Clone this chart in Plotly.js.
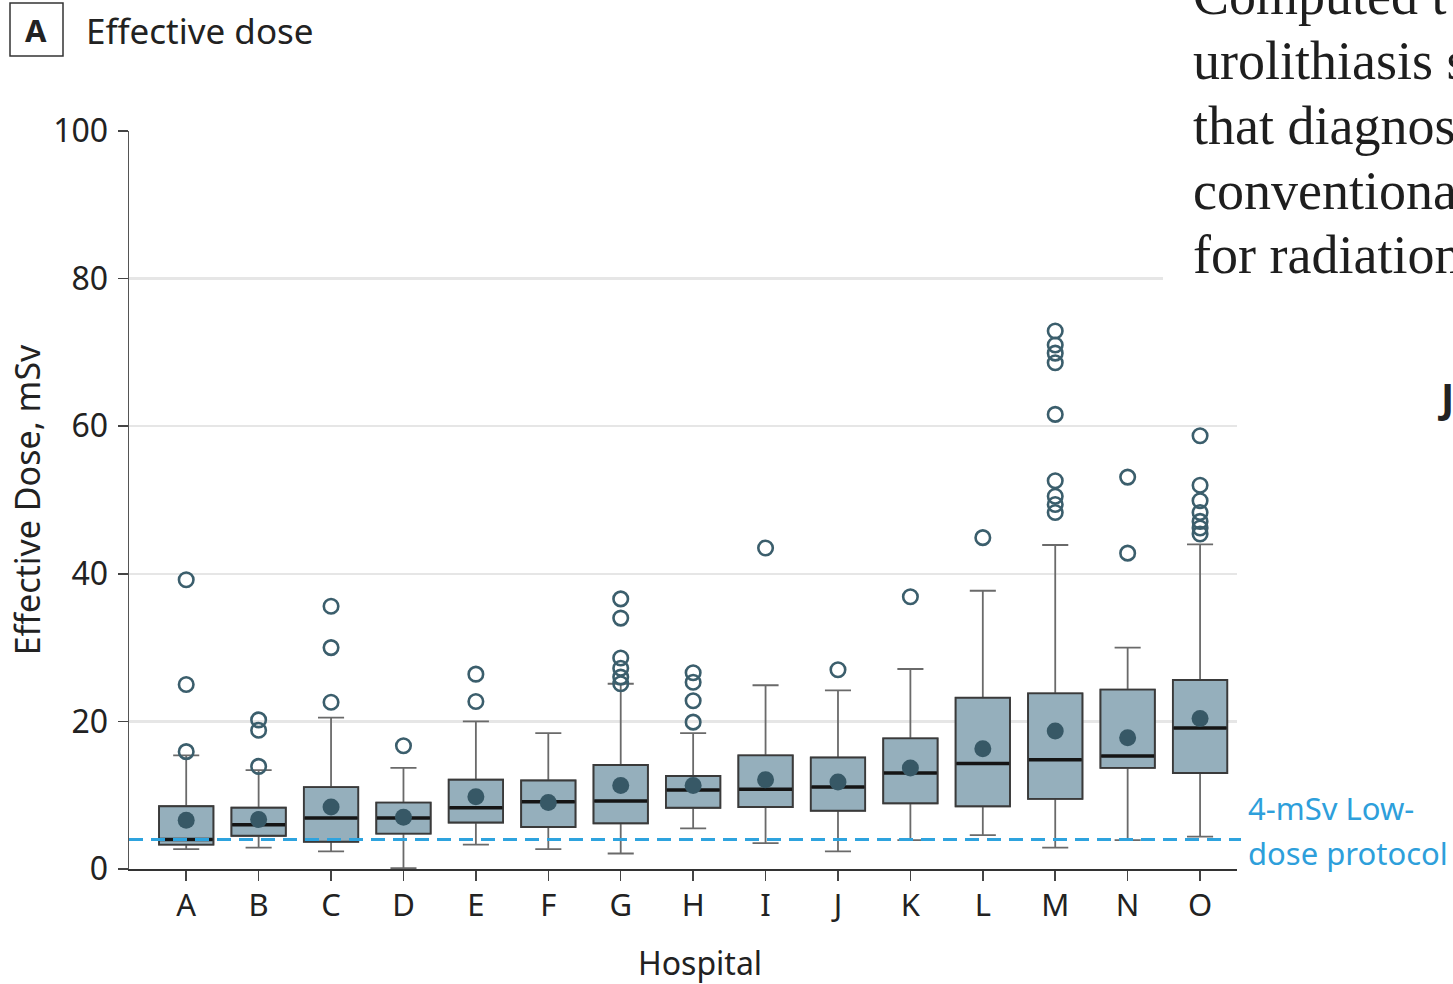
<!DOCTYPE html>
<html>
<head>
<meta charset="utf-8">
<script src="https://cdn.plot.ly/plotly-3.0.1.min.js"></script>
<style>
html,body{margin:0;padding:0;background:#fff;}
#chart{width:1453px;height:984px;}
</style>
</head>
<body>
<div id="chart"></div>
<script>
// ---- data ----
const hospitals = ["A","B","C","D","E","F","G","H","I","J","K","L","M","N","O"];
const q1        = [3.3, 4.5, 3.7, 4.8, 6.3, 5.7, 6.2, 8.3, 8.4, 7.9, 8.9, 8.5, 9.5, 13.7, 13.0];
const medians   = [4.0, 6.0, 6.9, 6.9, 8.3, 9.1, 9.2, 10.7, 10.8, 11.1, 13.0, 14.3, 14.8, 15.3, 19.1];
const q3        = [8.5, 8.3, 11.1, 9.0, 12.1, 12.0, 14.1, 12.6, 15.4, 15.1, 17.7, 23.2, 23.8, 24.3, 25.6];
const lowerWhisker = [2.7, 2.9, 2.4, 0.1, 3.3, 2.7, 2.1, 5.5, 3.5, 2.4, 3.9, 4.6, 2.9, 3.9, 4.4];
const upperWhisker = [15.4, 13.4, 20.5, 13.7, 20.0, 18.4, 25.1, 18.4, 24.9, 24.2, 27.1, 37.7, 43.9, 30.0, 44.0];
const means     = [6.6, 6.7, 8.4, 7.0, 9.8, 9.0, 11.3, 11.3, 12.1, 11.8, 13.7, 16.3, 18.7, 17.8, 20.4];
const outliers  = [
  [39.2, 25.0, 15.9],
  [20.2, 18.8, 13.9],
  [35.6, 30.0, 22.6],
  [16.7],
  [26.4, 22.7],
  [],
  [36.6, 34.0, 28.6, 27.2, 26.0, 25.1],
  [26.6, 25.3, 22.8, 19.9],
  [43.5],
  [27.0],
  [36.9],
  [44.9],
  [72.9, 71.0, 69.9, 68.6, 61.6, 52.6, 50.5, 49.4, 48.3],
  [53.1, 42.8],
  [58.7, 52.0, 49.9, 48.3, 47.1, 46.2, 45.4]
];
const lowDoseThreshold = 4;
const yTicks = [0, 20, 40, 60, 80, 100];
const bodyTextLines = ["Computed t", "urolithiasis s", "that diagnos", "conventiona", "for radiation"];

// ---- styling / layout ----
const FONT = "Noto Sans, Open Sans, sans-serif";
const BOX_W = 0.75;
const idx = hospitals.map((_, i) => i);

// layout geometry helpers (pixel -> paper) for decorations only
const M = {l: 129, r: 216, t: 131, b: 115};
const W = 1453, H = 984;
const PW = W - M.l - M.r, PH = H - M.t - M.b;
const px = x => (x - M.l) / PW;
const py = y => (H - M.b - y) / PH;

// whiskers (gray) with caps
const whiskerTrace = {
  type: "box",
  x: idx,
  q1: q1, median: medians, q3: q3,
  lowerfence: lowerWhisker, upperfence: upperWhisker,
  boxpoints: false,
  width: BOX_W,
  whiskerwidth: 0.48,
  fillcolor: "#95afbc",
  line: {color: "#6a6a6a", width: 1.8},
  hoverinfo: "skip",
  showlegend: false
};
// box bodies (dark outline) drawn over the whiskers
const boxTrace = {
  type: "box",
  x: idx,
  q1: q1, median: medians, q3: q3,
  lowerfence: q1, upperfence: q3,
  boxpoints: false,
  width: BOX_W,
  whiskerwidth: 0,
  fillcolor: "#95afbc",
  line: {color: "#3a3a3a", width: 1.9},
  hoverinfo: "skip",
  showlegend: false
};

const medX = [], medY = [];
idx.forEach(i => { medX.push(i - BOX_W/2 + 0.01, i + BOX_W/2 - 0.01, null); medY.push(medians[i], medians[i], null); });
const medianTrace = {
  type: "scatter", mode: "lines", x: medX, y: medY,
  line: {color: "#151515", width: 3.5}, hoverinfo: "skip", showlegend: false
};

const meanTrace = {
  type: "scatter", mode: "markers", x: idx, y: means,
  marker: {color: "#375866", size: 17, line: {width: 0}},
  hoverinfo: "skip", showlegend: false
};

const outX = [], outY = [];
outliers.forEach((arr, i) => arr.forEach(v => { outX.push(i); outY.push(v); }));
const outlierTrace = {
  type: "scatter", mode: "markers", x: outX, y: outY,
  marker: {symbol: "circle-open", color: "#3b5e6c", size: 14.5, line: {width: 2.6, color: "#3b5e6c"}},
  hoverinfo: "skip", showlegend: false
};

const serif = "Liberation Serif, DejaVu Serif, serif";
const bodyBaselines = [15, 80, 145, 210, 274];
const bodyAnnotations = bodyTextLines.map((t, k) => ({
  xref: "paper", yref: "paper", x: px(1191), y: py(bodyBaselines[k] + 13), xanchor: "left", yanchor: "bottom",
  text: t, showarrow: false, font: {family: serif, size: 54, color: "#1e1e1e"}
}));

const layout = {
  width: W, height: H,
  margin: M,
  paper_bgcolor: "#ffffff", plot_bgcolor: "#ffffff",
  font: {family: FONT, color: "#222222", size: 31},
  showlegend: false,
  xaxis: {
    range: [-0.79, 14.51],
    tickmode: "array", tickvals: idx, ticktext: hospitals,
    showgrid: false, zeroline: false,
    showline: true, linecolor: "#333333", linewidth: 2,
    ticks: "outside", ticklen: 10, tickwidth: 1.5, tickcolor: "#444444",
    tickfont: {family: FONT, size: 31, color: "#222222"},
    ticklabelstandoff: -2,
    fixedrange: true
  },
  yaxis: {
    range: [0, 100],
    tickmode: "array", tickvals: yTicks,
    showgrid: true, gridcolor: "#e6e6e6", gridwidth: 2.5,
    zeroline: false,
    showline: true, linecolor: "#555555", linewidth: 1.5,
    ticks: "outside", ticklen: 10, tickwidth: 1.5, tickcolor: "#444444",
    tickfont: {family: FONT, size: 32, color: "#222222"},
    ticklabelstandoff: 3,
    title: {text: "Effective Dose, mSv", font: {family: FONT, size: 34, color: "#222222"}, standoff: 2},
    fixedrange: true
  },
  shapes: [
    {type: "line", xref: "paper", yref: "y", x0: 0, x1: px(1241), y0: lowDoseThreshold, y1: lowDoseThreshold,
     line: {color: "#2ea3de", width: 3, dash: "14px,8px"}, layer: "above"},
    {type: "rect", xref: "paper", yref: "paper", x0: px(1163), x1: px(1460), y0: py(350), y1: py(-10),
     fillcolor: "#ffffff", line: {width: 0}, layer: "above"},
    {type: "rect", xref: "paper", yref: "paper", x0: px(10), x1: px(63), y0: py(56), y1: py(3),
     fillcolor: "rgba(0,0,0,0)", line: {color: "#333333", width: 1.5}}
  ],
  annotations: [
    {xref: "paper", yref: "paper", x: px(36.5), y: py(29.5), xanchor: "center", yanchor: "middle",
     text: "<b>A</b>", showarrow: false, font: {family: FONT, size: 31, color: "#222222"}},
    {xref: "paper", yref: "paper", x: px(84), y: py(31), xanchor: "left", yanchor: "middle",
     text: "Effective dose", showarrow: false, font: {family: FONT, size: 35, color: "#222222"}},
    {xref: "paper", yref: "paper", x: px(700), y: py(962), xanchor: "center", yanchor: "middle",
     text: "Hospital", showarrow: false, font: {family: FONT, size: 32, color: "#222222"}},
    {xref: "paper", yref: "paper", x: px(1246), y: py(808), xanchor: "left", yanchor: "middle",
     text: "4-mSv Low-", showarrow: false, font: {family: FONT, size: 31, color: "#2e9fdb"}},
    {xref: "paper", yref: "paper", x: px(1246), y: py(853), xanchor: "left", yanchor: "middle",
     text: "dose protocol", showarrow: false, font: {family: FONT, size: 31, color: "#2e9fdb"}},
    {xref: "paper", yref: "paper", x: px(1436), y: py(396), xanchor: "left", yanchor: "middle",
     text: "<b>J</b>", showarrow: false, font: {family: FONT, size: 40, color: "#222222"}}
  ].concat(bodyAnnotations)
};

Plotly.newPlot("chart", [whiskerTrace, boxTrace, medianTrace, meanTrace, outlierTrace], layout, {displayModeBar: false, staticPlot: true});
</script>
</body>
</html>
